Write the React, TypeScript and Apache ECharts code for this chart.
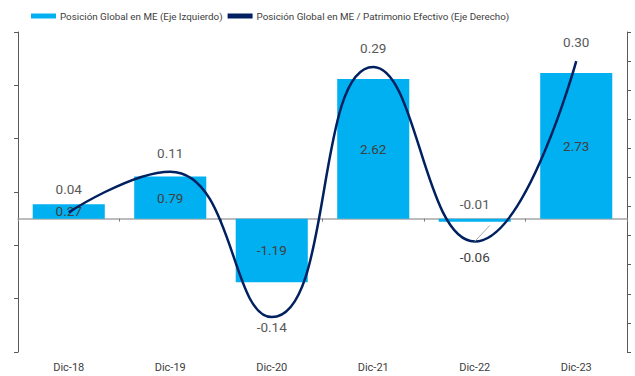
import React, { useEffect, useRef } from "react";
import * as echarts from "echarts";

const categories = ["Dic-18", "Dic-19", "Dic-20", "Dic-21", "Dic-22", "Dic-23"];
const barValues = [0.27, 0.79, -1.19, 2.62, -0.06, 2.73];
const lineValues = [0.04, 0.11, -0.14, 0.29, -0.01, 0.3];
const barName = "Posición Global en ME (Eje Izquierdo)";
const lineName = "Posición Global en ME / Patrimonio Efectivo (Eje Derecho)";

const FONT = "Roboto, sans-serif";

export default function App() {
  const ref = useRef<HTMLDivElement>(null);
  useEffect(() => {
    if (!ref.current) return;
    const chart = echarts.init(ref.current, undefined, { renderer: "svg" });
    const barData = barValues.map((v, i) => {
      if (i === 4) {
        return {
          value: v,
          label: { show: true, position: "bottom", distance: 28 },
        };
      }
      return { value: v };
    });
    const lineData = lineValues.map((v, i) => {
      if (i === 2) return { value: v, label: { position: "bottom", distance: 3 } };
      if (i === 4)
        return {
          value: v,
          label: { position: "top", distance: 30 },
          labelLine: { show: true, lineStyle: { color: "#a6a6a6", width: 1 } },
        };
      if (i === 0) return { value: v, label: { distance: 16 } };
      return { value: v };
    });
    chart.setOption({
      animation: false,
      textStyle: { fontFamily: FONT },
      legend: {
        top: 6,
        left: 26,
        itemGap: 5,
        itemWidth: 25,
        itemHeight: 5,
        textStyle: { fontFamily: FONT, fontSize: 9.8, color: "#404040", padding: [0, 0, 0, -1] },
        data: [
          { name: barName, icon: "rect" },
          { name: lineName, icon: "rect", itemStyle: { color: "#002060" } },
        ],
      },
      grid: { left: 18, right: 8, top: 32, bottom: 24 },
      xAxis: [
        {
          type: "category",
          data: categories,
          position: "bottom",
          axisLine: { show: false, onZero: false },
          axisTick: { show: false },
          axisLabel: {
            color: "#404040",
            fontFamily: FONT,
            fontSize: 11,
            margin: 10,
          },
        },
        {
          type: "category",
          data: categories,
          position: "bottom",
          axisLine: {
            show: true,
            onZero: true,
            onZeroAxisIndex: 0,
            lineStyle: { color: "#a6a6a6", width: 1.5 },
          },
          axisTick: { show: true, length: 3, lineStyle: { color: "#7f7f7f" } },
          axisLabel: { show: false },
        },
      ],
      yAxis: [
        {
          type: "value",
          min: -2.5,
          max: 3.5,
          interval: 1,
          position: "left",
          axisLine: { show: true, lineStyle: { color: "#595959" } },
          axisTick: { show: true, length: 4, lineStyle: { color: "#595959" } },
          axisLabel: { show: false },
          splitLine: { show: false },
        },
        {
          type: "value",
          min: -0.2,
          max: 0.35,
          interval: 0.05,
          position: "right",
          axisLine: { show: true, lineStyle: { color: "#595959" } },
          axisTick: { show: true, length: 4, lineStyle: { color: "#595959" } },
          axisLabel: { show: false },
          splitLine: { show: false },
        },
      ],
      series: [
        {
          name: barName,
          type: "bar",
          xAxisIndex: 0,
          yAxisIndex: 0,
          data: barData,
          barWidth: "71%",
          itemStyle: { color: "#00b0f0" },
          label: {
            show: true,
            position: "inside",
            fontFamily: FONT,
            fontSize: 13.5,
            color: "#404040",
            formatter: (p: any) => p.value.toFixed(2),
          },
        },
        {
          name: lineName,
          type: "line",
          xAxisIndex: 0,
          yAxisIndex: 1,
          data: lineData,
          smooth: 0.5,
          showSymbol: true,
          symbol: "circle",
          symbolSize: 0.01,
          lineStyle: { color: "#002060", width: 2.5 },
          itemStyle: { color: "#002060" },
          label: {
            show: true,
            position: "top",
            distance: 12,
            fontFamily: FONT,
            fontSize: 13.5,
            color: "#595959",
            formatter: (p: any) => p.value.toFixed(2),
          },
        },
      ],
    });
    return () => chart.dispose();
  }, []);
  return <div ref={ref} style={{ width: 635, height: 376, position: "absolute", left: 0, top: 0 }} />;
}
